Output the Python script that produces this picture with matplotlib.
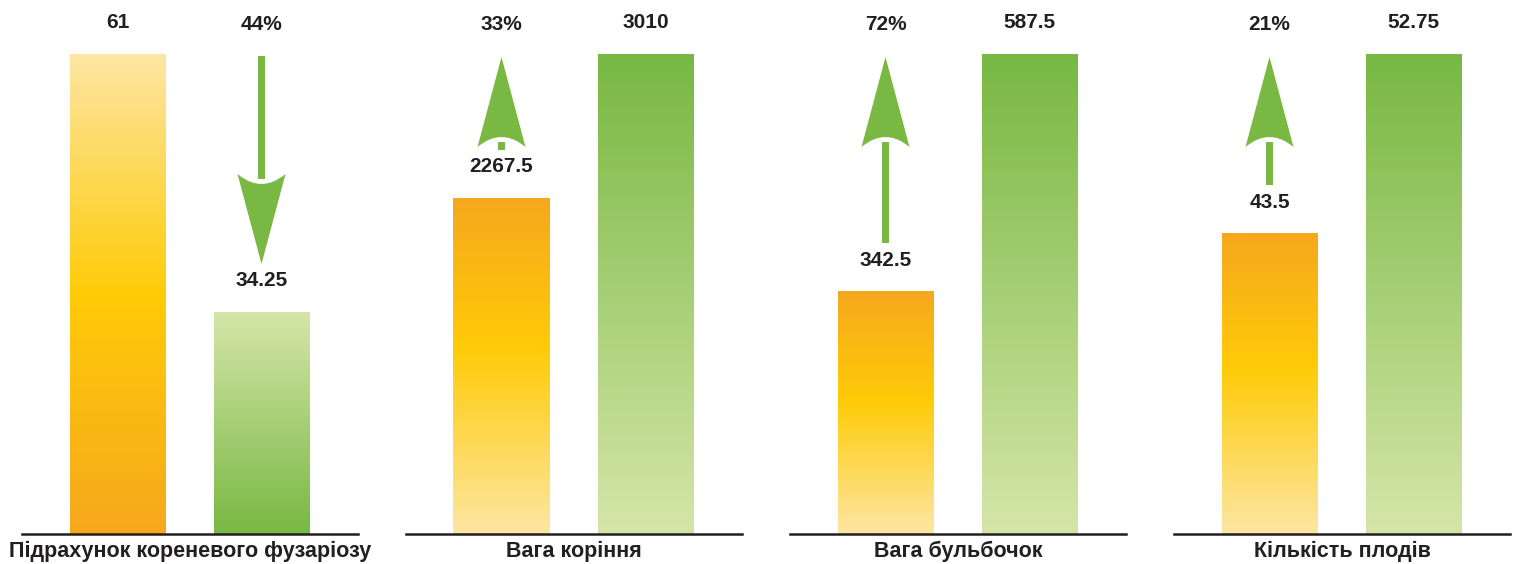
import numpy as np
import matplotlib.pyplot as plt
from matplotlib.colors import LinearSegmentedColormap
from matplotlib.patches import Rectangle, PathPatch
from matplotlib.path import Path

plt.rcParams['font.family'] = ['Liberation Sans', 'DejaVu Sans']
plt.rcParams['font.weight'] = 'bold'

# Data
categories = ['Підрахунок кореневого фузаріозу', 'Вага коріння',
              'Вага бульбочок', 'Кількість плодів']
control_labels = ['61', '2267.5', '342.5', '43.5']
treated_labels = ['34.25', '3010', '587.5', '52.75']
changes = ['44%', '33%', '72%', '21%']
# bar heights as drawn, share of the tallest bar in each panel
control_h = [1.0, 0.70, 0.506, 0.627]
treated_h = [0.4625, 1.0, 1.0, 1.0]

DARK = '#231F20'
ARROW = '#78B843'
ORANGE = '#F6A81D'
YELLOW = '#FFCB08'
LIGHT_OR = '#FDE6A3'
GREEN = '#78B843'
LIGHT_GR = '#D5E6A8'

# pixel scale of the data units
PX_X = 144.0
PX_Y = 480.0
W = 96 / PX_X

fig = plt.figure(figsize=(15.17, 5.64), dpi=100)


def grad_bar(ax, x, h, stops):
    cmap = LinearSegmentedColormap.from_list('g', stops)
    g = np.linspace(0, 1, 256).reshape(-1, 1)
    ax.imshow(g, cmap=cmap, origin='lower', aspect='auto',
              extent=(x - W / 2, x + W / 2, 0, h), interpolation='bilinear',
              zorder=2)


def draw_arrow(ax, x, y_from, y_to):
    s = np.sign(y_to - y_from)
    hl = 90 / PX_Y
    hw = 24 / PX_X
    sw = 3.6 / PX_X
    cd = 10 / PX_Y
    yb = y_to - s * hl
    verts = [(x, y_to), (x + hw, yb), (x, yb + 2 * s * cd), (x - hw, yb), (x, y_to)]
    codes = [Path.MOVETO, Path.LINETO, Path.CURVE3, Path.CURVE3, Path.CLOSEPOLY]
    ax.add_patch(PathPatch(Path(verts, codes), fc=ARROW, ec='none', zorder=3))
    y_end = yb + s * cd * 0.5
    ax.add_patch(Rectangle((x - sw, min(y_from, y_end)), 2 * sw, abs(y_end - y_from),
                           fc=ARROW, ec='none', zorder=3))


for i in range(4):
    left = (22 + 384 * i) / 1517
    ax = fig.add_axes([left, (564 - 534) / 564, 336 / 1517, 534 / 564])
    hc, ht = control_h[i], treated_h[i]
    lower_better = ht < hc

    if lower_better:
        or_stops = [(0, ORANGE), (0.5, YELLOW), (1, LIGHT_OR)]
        gr_stops = [(0, GREEN), (1, LIGHT_GR)]
    else:
        or_stops = [(0, LIGHT_OR), (0.55, YELLOW), (1, ORANGE)]
        gr_stops = [(0, LIGHT_GR), (1, GREEN)]
    grad_bar(ax, 0, hc, or_stops)
    grad_bar(ax, 1, ht, gr_stops)

    off = 31 / PX_Y
    ax.text(0, hc + off, control_labels[i], ha='center', va='center',
            fontsize=15, color=DARK)
    ax.text(1, ht + off, treated_labels[i], ha='center', va='center',
            fontsize=15, color=DARK)

    # arrow over the shorter bar
    xs = 1 if lower_better else 0
    hs = min(hc, ht)
    top = 1.0 - 3 / PX_Y
    near = hs + 48 / PX_Y
    if lower_better:
        draw_arrow(ax, xs, top + 1 / PX_Y, near)
    else:
        draw_arrow(ax, xs, near, top)
    ax.text(xs, 1.0 + 30 / PX_Y, changes[i], ha='center', va='center',
            fontsize=15, color=DARK)

    ax.axhline(0, color=DARK, lw=1.8, zorder=4, clip_on=False)
    ax.annotate(categories[i], xy=(0.5, 0), xycoords='axes fraction',
                xytext=(0, -12.5), textcoords='offset points',
                ha='center', va='center', fontsize=15.5, color=DARK,
                annotation_clip=False)

    ax.set_xlim(-95.5 / PX_X, (336 - 95.5) / PX_X)
    ax.set_ylim(0, 534 / PX_Y)
    ax.axis('off')

fig.savefig('out.png', dpi=100)
